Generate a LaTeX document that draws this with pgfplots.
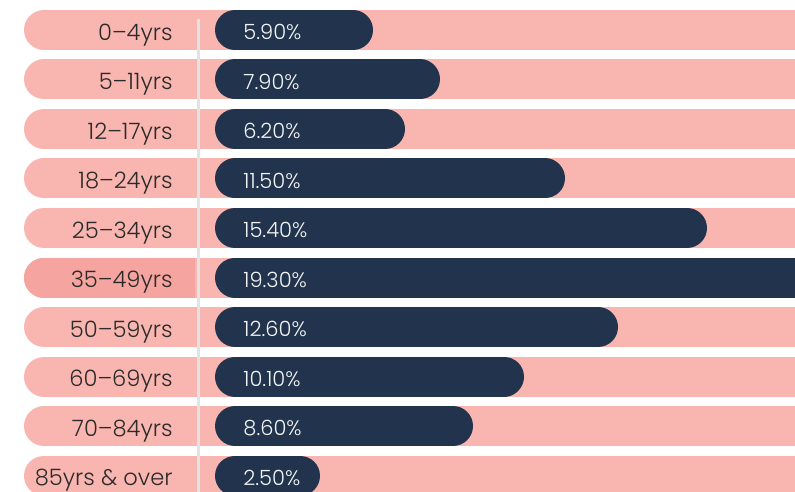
\documentclass[border=0pt]{standalone}
\usepackage{pgfplots}
\pgfplotsset{compat=1.18}
\usepackage{fontspec}
\setmainfont{Poppins}[UprightFont=* Light]
\definecolor{pinkc}{HTML}{F9B5AF}
\definecolor{darkpink}{HTML}{F5A49F}
\definecolor{navy}{HTML}{22344D}
\definecolor{txt}{HTML}{2B2B2B}
\definecolor{vline}{HTML}{E3E3E3}
% y: row centre (px), e: right end of bar centre line (px)
\newcommand{\pinkrow}[1]{\addplot[pinkc, line width=20pt, line cap=round] coordinates {(44,#1) (1000,#1)};}
\newcommand{\navybar}[2]{\addplot[navy, line width=20pt, line cap=round] coordinates {(235,#1) (#2,#1)};}
\newcommand{\labels}[3]{%
  \node[anchor=east, text=txt, font=\fontsize{11.3}{13}\selectfont, inner sep=0pt] at (axis cs:173,#1+5) {#2};
  \node[anchor=west, text=white!94!navy, font=\fontsize{10.5}{13}\selectfont, inner sep=0pt] at (axis cs:243,#1+2) {#3};}
\begin{document}
\begin{tikzpicture}
\begin{axis}[width=397.5pt, height=245.5pt, scale only axis, hide axis,
  xmin=0, xmax=795, ymin=0, ymax=491, y dir=reverse, clip=true]
\pinkrow{30}\pinkrow{79.5}\pinkrow{129}\pinkrow{178.5}\pinkrow{228}
\pinkrow{277.5}\pinkrow{327}\pinkrow{376.5}\pinkrow{426}\pinkrow{475.5}
\addplot[darkpink, line width=20pt, line cap=round] coordinates {(44,277.5) (60,277.5)};
\addplot[fill=darkpink, draw=none] coordinates {(44,257.5) (195,257.5) (195,297.5) (44,297.5)} -- cycle;
\addplot[vline, line width=1.5pt] coordinates {(198,19) (198,500)};
\navybar{30}{353}
\navybar{79.5}{420}
\navybar{129}{385}
\navybar{178.5}{545}
\navybar{228}{687}
\navybar{277.5}{810}
\navybar{327}{598}
\navybar{376.5}{504}
\navybar{426}{453}
\navybar{475.5}{300}
\labels{30}{0--4yrs}{5.90\%}
\labels{79.5}{5--11yrs}{7.90\%}
\labels{129}{12--17yrs}{6.20\%}
\labels{178.5}{18--24yrs}{11.50\%}
\labels{228}{25--34yrs}{15.40\%}
\labels{277.5}{35--49yrs}{19.30\%}
\labels{327}{50--59yrs}{12.60\%}
\labels{376.5}{60--69yrs}{10.10\%}
\labels{426}{70--84yrs}{8.60\%}
\labels{475.5}{85yrs \& over}{2.50\%}
\end{axis}
\path (current axis.south west) rectangle (current axis.north east);
\end{tikzpicture}
\end{document}
